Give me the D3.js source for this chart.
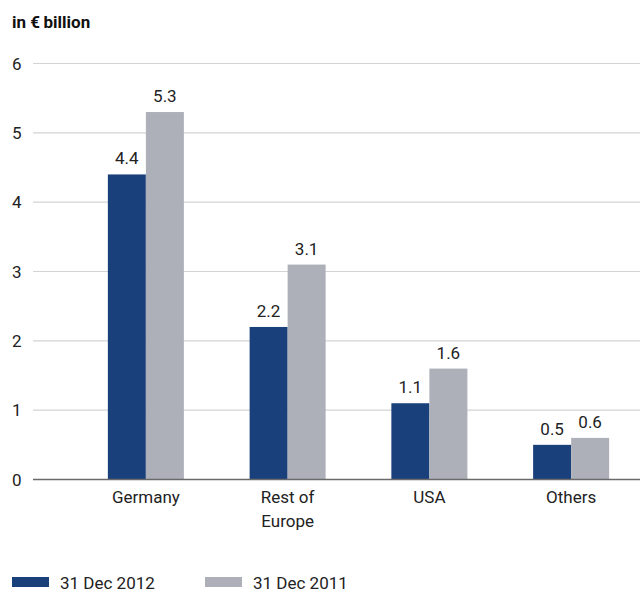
<!DOCTYPE html>
<html>
<head>
<meta charset="utf-8">
<script src="https://cdn.jsdelivr.net/npm/d3@7"></script>
<style>
  html, body { margin: 0; padding: 0; background: #fff; }
  svg { display: block; font-family: Roboto, "DejaVu Sans", sans-serif; }
</style>
</head>
<body>
<svg id="chart" width="640" height="592"></svg>
<script>
// Receivables by region, in € billion
const categories = ["Germany", "Rest of\nEurope", "USA", "Others"];
const seriesNames = ["31 Dec 2012", "31 Dec 2011"];
const values2012 = [4.4, 2.2, 1.1, 0.5];
const values2011 = [5.3, 3.1, 1.6, 0.6];
const yTicks = [0, 1, 2, 3, 4, 5, 6];
const colors = ["#1a407c", "#adb0b8"];

const svg = d3.select("#chart");
const W = 640;

const y = d3.scaleLinear().domain([0, 6]).range([479.5, 63.5]);
const x0 = d3.scaleBand().domain(categories).range([75, 642])
  .paddingInner(0.4637).paddingOuter(0.2318);
const x1 = d3.scaleBand().domain(seriesNames).range([0, x0.bandwidth()]);

// title
svg.append("text").attr("x", 12).attr("y", 28)
  .attr("font-size", 17).attr("font-weight", "bold").attr("fill", "#111")
  .text("in €\u2009billion");

// gridlines
svg.append("g").selectAll("line").data(yTicks.filter(d => d > 0)).join("line")
  .attr("x1", 33).attr("x2", W)
  .attr("y1", d => y(d)).attr("y2", d => y(d))
  .attr("stroke", "#d3d3d6").attr("stroke-width", 1.2);

// y tick labels
svg.append("g").selectAll("text").data(yTicks).join("text")
  .attr("x", 12).attr("y", d => y(d) + 6)
  .attr("font-size", 17).attr("fill", "#222")
  .text(d => d);

// bars
const rows = categories.map((c, i) => ({ cat: c, vals: [values2012[i], values2011[i]] }));
const groups = svg.append("g").selectAll("g").data(rows).join("g")
  .attr("transform", d => `translate(${x0(d.cat)},0)`);

groups.selectAll("rect").data(d => d.vals.map((v, j) => ({ v, s: seriesNames[j], j })))
  .join("rect")
  .attr("x", d => x1(d.s)).attr("width", x1.bandwidth())
  .attr("y", d => y(d.v)).attr("height", d => y(0) - y(d.v))
  .attr("fill", d => colors[d.j]);

groups.selectAll("text.val").data(d => d.vals.map((v, j) => ({ v, s: seriesNames[j] })))
  .join("text").attr("class", "val")
  .attr("x", d => x1(d.s) + x1.bandwidth() / 2)
  .attr("y", d => y(d.v) - 10)
  .attr("text-anchor", "middle").attr("font-size", 17).attr("fill", "#222")
  .text(d => d3.format(".1f")(d.v));

// baseline
svg.append("line").attr("x1", 33).attr("x2", W)
  .attr("y1", y(0)).attr("y2", y(0))
  .attr("stroke", "#6a6a6a").attr("stroke-width", 1.5);

// category labels
const catLabels = svg.append("g").selectAll("text").data(categories).join("text")
  .attr("x", d => x0(d) + x0.bandwidth() / 2)
  .attr("y", 503)
  .attr("text-anchor", "middle").attr("font-size", 17).attr("fill", "#222");
catLabels.selectAll("tspan").data(d => d.split("\n").map((t, i) => ({ t, i })))
  .join("tspan")
  .attr("x", function() { return d3.select(this.parentNode).attr("x"); })
  .attr("dy", d => d.i === 0 ? 0 : 24)
  .text(d => d.t);

// legend
const legend = svg.append("g").selectAll("g").data(seriesNames).join("g")
  .attr("transform", (d, i) => `translate(${12 + i * 193},0)`);
legend.append("rect").attr("x", 0).attr("y", 577).attr("width", 37).attr("height", 10)
  .attr("fill", (d, i) => colors[i]);
legend.append("text").attr("x", 48).attr("y", 589)
  .attr("font-size", 17).attr("fill", "#222").text(d => d);
</script>
</body>
</html>
